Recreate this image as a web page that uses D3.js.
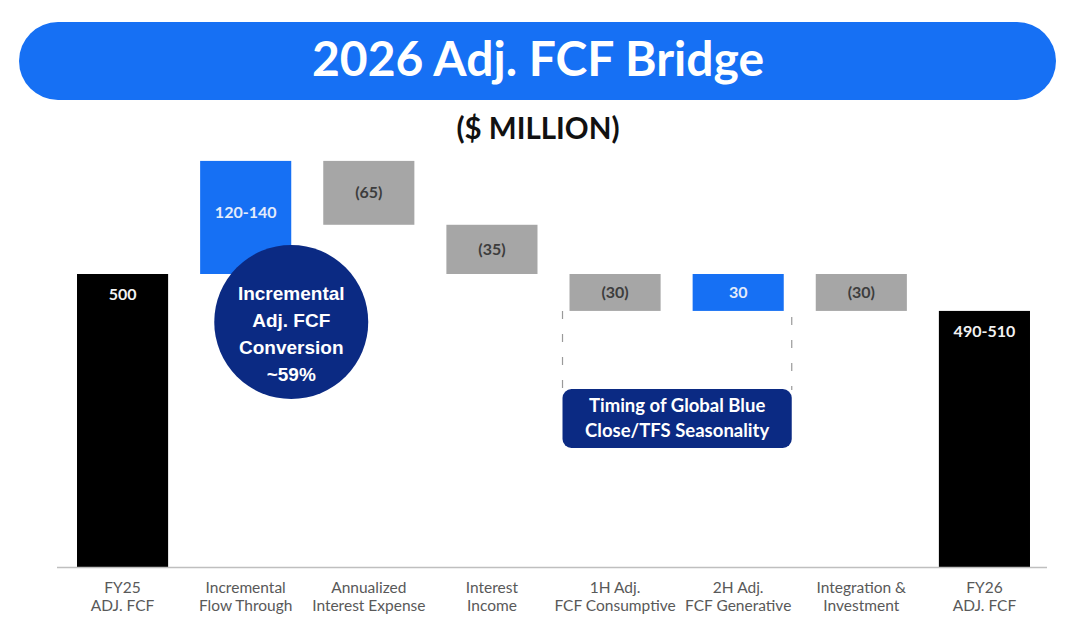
<!DOCTYPE html>
<html>
<head>
<meta charset="utf-8">
<script src="https://cdn.jsdelivr.net/npm/d3@7"></script>
<style>
  body { margin: 0; background: #fff; }
  svg { display: block; }
</style>
</head>
<body>
<div class="bridge"></div>
<script>
// categories (two line labels under the axis)
var categories = [
    ["FY25", "ADJ. FCF"],
    ["Incremental", "Flow Through"],
    ["Annualized", "Interest Expense"],
    ["Interest", "Income"],
    ["1H Adj.", "FCF Consumptive"],
    ["2H Adj.", "FCF Generative"],
    ["Integration &", "Investment"],
    ["FY26", "ADJ. FCF"]
];
// figures printed on the bars ($ million)
var valueLabels = ["500", "120-140", "(65)", "(35)", "(30)", "30", "(30)", "490-510"];
var barKind = ["total", "up", "down", "down", "down", "up", "down", "total"];
// the slide is not drawn to scale, so these are the bar sizes read off the picture
// in the units of the 500 bar (totals are levels, the rest are steps)
var barSizes = [500, 193, -109, -84, -63, 63, -63, 437];

var circleLines = ["Incremental", "Adj. FCF", "Conversion", "~59%"];
var boxLines = ["Timing of Global Blue", "Close/TFS Seasonality"];

var W = 1074, H = 632;
var blue = "#1670f4", navy = "#0b2a83", grey = "#a6a6a6";

var svg = d3.select(".bridge")
            .append("svg")
            .attr("width", W)
            .attr("height", H);

// title pill
svg.append("rect")
   .attr("x", 19).attr("y", 22)
   .attr("width", 1037).attr("height", 78)
   .attr("rx", 39)
   .attr("fill", blue);
svg.append("text")
   .attr("x", 538).attr("y", 76)
   .attr("text-anchor", "middle")
   .attr("font-family", "Lato, sans-serif")
   .attr("font-weight", 700)
   .attr("font-size", 48)
   .attr("fill", "#fff")
   .text("2026 Adj. FCF Bridge");

svg.append("text")
   .attr("x", 538).attr("y", 139)
   .attr("text-anchor", "middle")
   .attr("font-family", "Lato, sans-serif")
   .attr("font-weight", 700)
   .attr("font-size", 29.5)
   .attr("fill", "#111")
   .text("($ MILLION)");

var ids = categories.map(function(d, i) { return i; });
var xScale = d3.scaleBand()
               .domain(ids)
               .range([61, 1046])
               .paddingInner(0.26)
               .paddingOuter(0.13);
var yScale = d3.scaleLinear()
               .domain([0, 500])
               .range([567, 274]);

// running levels of the waterfall
var bars = [];
var level = 0;
for (var i = 0; i < barSizes.length; i++) {
    var lo, hi;
    if (barKind[i] == "total") {
        lo = 0; hi = barSizes[i]; level = barSizes[i];
    } else {
        var next = level + barSizes[i];
        lo = Math.min(level, next); hi = Math.max(level, next);
        level = next;
    }
    bars.push({ i: i, lo: lo, hi: hi, kind: barKind[i], label: valueLabels[i] });
}

var fillOf = { total: "#000", up: blue, down: grey };
var textOf = { total: "#f2f2f2", up: "#e3ebfa", down: "#3d3d3d" };

var g = svg.append("g");

// dashed bracket behind the timing box
var left = xScale(4) - 7, right = xScale(5) + xScale.bandwidth() + 8;
[[left, bars[4].lo], [right, bars[5].lo]].forEach(function(p, k) {
    g.append("line")
     .attr("x1", p[0]).attr("x2", p[0])
     .attr("y1", yScale(p[1]) + (k == 0 ? 0 : 6))
     .attr("y2", 390)
     .attr("stroke", "#9a9a9a")
     .attr("stroke-width", 1.2)
     .attr("stroke-dasharray", "8,15");
});

g.selectAll(".bar")
 .data(bars)
 .enter()
 .append("rect")
 .attr("class", "bar")
 .attr("x", function(d) { return xScale(d.i); })
 .attr("width", xScale.bandwidth())
 .attr("y", function(d) { return yScale(d.hi); })
 .attr("height", function(d) { return yScale(d.lo) - yScale(d.hi); })
 .attr("fill", function(d) { return fillOf[d.kind]; });

g.selectAll(".val")
 .data(bars)
 .enter()
 .append("text")
 .attr("class", "val")
 .attr("x", function(d) { return xScale(d.i) + xScale.bandwidth() / 2; })
 .attr("y", function(d) {
     if (d.kind == "total") return yScale(d.hi) + 20;
     if (d.i == 1) return (yScale(d.hi) + yScale(d.lo)) / 2 - 5;
     return (yScale(d.hi) + yScale(d.lo)) / 2;
 })
 .attr("dy", "0.35em")
 .attr("text-anchor", "middle")
 .attr("font-family", "Lato, sans-serif")
 .attr("font-weight", 700)
 .attr("font-size", 16)
 .attr("fill", function(d) { return textOf[d.kind]; })
 .text(function(d) { return d.label; });

// axis line and category labels
g.append("line")
 .attr("x1", 57).attr("x2", 1047)
 .attr("y1", yScale(0) + 0.5).attr("y2", yScale(0) + 0.5)
 .attr("stroke", "#bfbfbf")
 .attr("stroke-width", 1.5);

var cat = g.selectAll(".cat")
 .data(categories)
 .enter()
 .append("text")
 .attr("class", "cat")
 .attr("text-anchor", "middle")
 .attr("font-family", "Lato, sans-serif")
 .attr("font-size", 15.5)
 .attr("fill", "#595959")
 .attr("transform", function(d, i) {
     return "translate(" + (xScale(i) + xScale.bandwidth() / 2) + "," + 593 + ")";
 });
cat.selectAll("tspan")
   .data(function(d) { return d; })
   .enter()
   .append("tspan")
   .attr("x", 0)
   .attr("y", function(d, k) { return k * 18; })
   .text(function(d) { return d; });

// conversion bubble
var cx = xScale(1) + xScale.bandwidth(), cy = yScale(500) + 48;
g.append("circle")
 .attr("cx", cx).attr("cy", cy).attr("r", 77)
 .attr("fill", navy);
g.selectAll(".circ")
 .data(circleLines)
 .enter()
 .append("text")
 .attr("class", "circ")
 .attr("x", cx)
 .attr("y", function(d, k) { return cy - 29 + k * 27; })
 .attr("dy", "0.35em")
 .attr("text-anchor", "middle")
 .attr("font-family", "'Liberation Sans', Arial, sans-serif")
 .attr("font-weight", 700)
 .attr("font-size", 19)
 .attr("fill", "#fff")
 .text(function(d) { return d; });

// timing box
g.append("rect")
 .attr("x", left).attr("y", 389)
 .attr("width", right - left).attr("height", 59)
 .attr("rx", 9)
 .attr("fill", navy);
g.selectAll(".box")
 .data(boxLines)
 .enter()
 .append("text")
 .attr("class", "box")
 .attr("x", (left + right) / 2)
 .attr("y", function(d, k) { return 406 + k * 25; })
 .attr("dy", "0.35em")
 .attr("text-anchor", "middle")
 .attr("font-family", "Lato, sans-serif")
 .attr("font-weight", 700)
 .attr("font-size", 18.5)
 .attr("fill", "#fff")
 .text(function(d) { return d; });
</script>
</body>
</html>
